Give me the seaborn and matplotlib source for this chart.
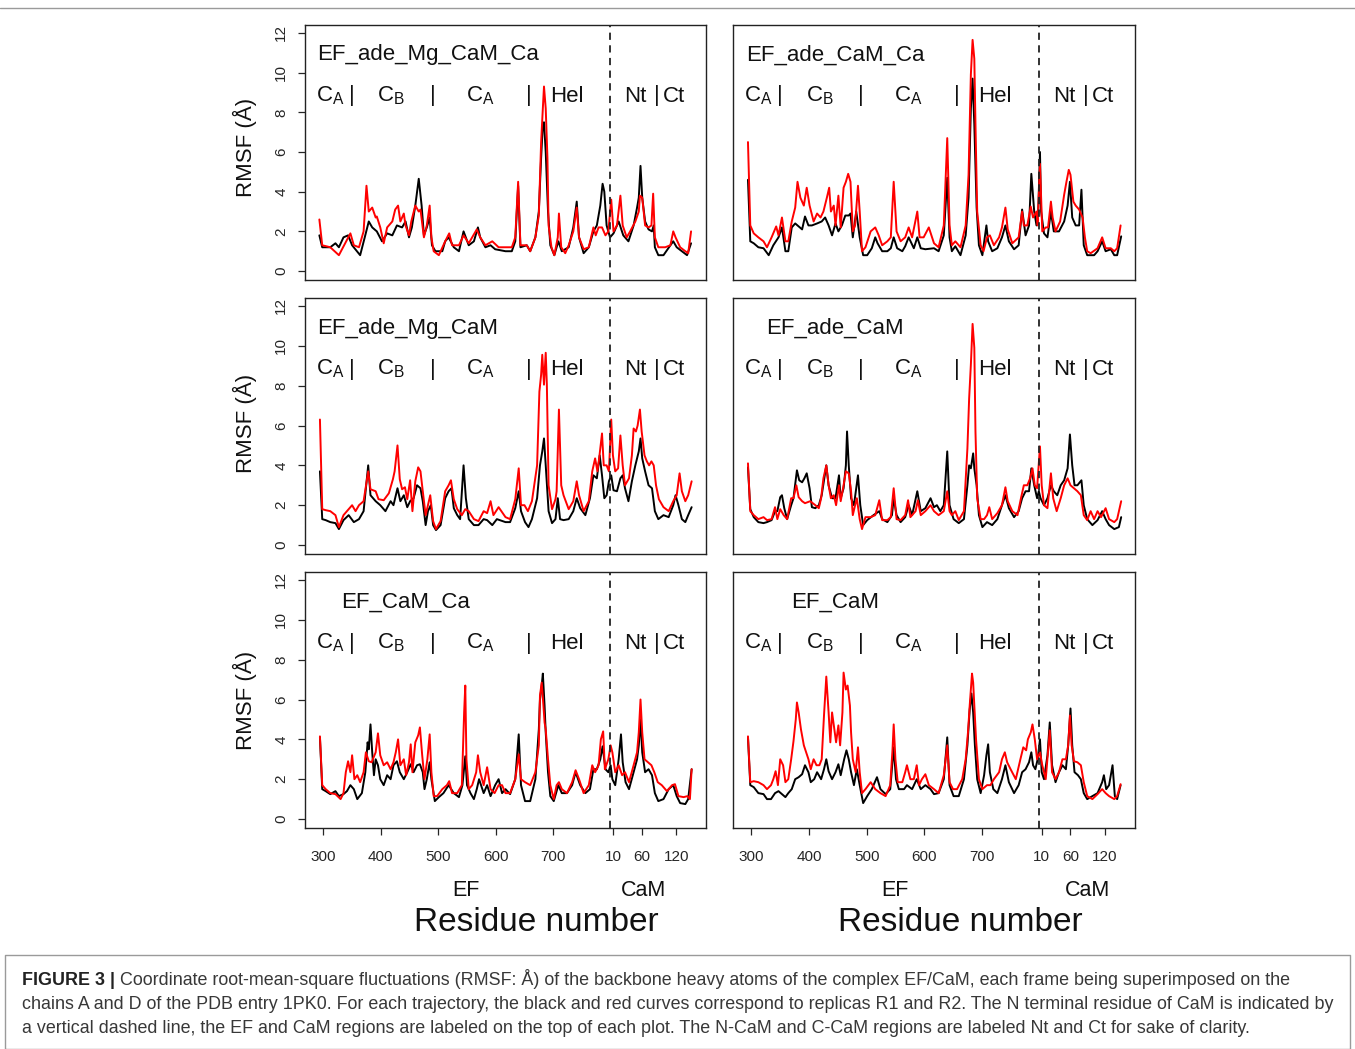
import pandas as pd
import seaborn as sns
import matplotlib.pyplot as plt
import matplotlib.transforms as mtransforms
from matplotlib.lines import Line2D

# CaM residue r is drawn at r + CAM_OFFSET on the shared residue axis
CAM_OFFSET = 794
CAM_START = 5

titles = ["EF_ade_Mg_CaM_Ca", "EF_ade_CaM_Ca", "EF_ade_Mg_CaM",
          "EF_ade_CaM", "EF_CaM_Ca", "EF_CaM"]

ef_ticks = [300, 400, 500, 600, 700]
cam_ticks = [10, 60, 120]
y_ticks = [0, 2, 4, 6, 8, 10, 12]

region_labels = ["$\\mathregular{C_A}$", "|", "$\\mathregular{C_B}$", "|",
                 "$\\mathregular{C_A}$", "|", "Hel", "Nt", "|", "Ct"]
region_pos = [312, 349, 418, 490, 573, 657, 723, 843, 880, 910]

# (residue position, RMSF in angstrom), replica R1 = black, R2 = red
mg_ca_r1 = [(293, 1.8), (298, 1.2), (304, 1.2), (312, 1.2), (321, 1.4), (327, 1.2), (335, 1.7), (343, 1.8),
            (350, 1.3), (364, 0.8), (372, 1.7), (379, 2.5), (385, 2.2), (393, 2.0), (402, 1.5), (411, 1.9),
            (420, 1.8), (428, 2.3), (437, 2.2), (443, 2.5), (449, 1.7), (454, 2.2), (460, 3.3), (466, 4.65),
            (471, 3.3), (475, 1.8), (480, 2.2), (485, 2.7), (489, 1.3), (495, 1.0), (507, 1.0), (512, 1.5),
            (518, 1.7), (527, 1.2), (536, 1.0), (544, 2.0), (553, 1.3), (562, 1.5), (569, 2.2), (573, 1.7),
            (582, 1.2), (591, 1.3), (599, 1.1), (617, 1.0), (628, 1.0), (634, 1.5), (639, 4.3), (643, 1.2),
            (654, 1.3), (660, 1.0), (669, 1.7), (675, 3.0), (679, 5.7), (682, 7.4), (684, 7.5), (687, 6.0),
            (691, 3.0), (695, 1.3), (702, 0.8), (709, 1.5), (715, 1.0), (727, 1.2), (735, 2.2), (741, 3.5),
            (745, 1.7), (753, 0.9), (762, 1.2), (770, 2.0), (776, 2.3), (782, 3.3), (786, 4.4), (789, 4.0),
            (793, 2.3), (799, 1.7), (805, 1.9), (814, 2.5), (822, 1.8), (831, 1.5), (840, 2.3), (846, 3.2),
            (849, 3.7), (852, 5.3), (855, 3.7), (860, 2.5), (866, 2.1), (872, 2.0), (875, 2.3), (877, 1.2),
            (883, 0.8), (892, 0.8), (904, 1.3), (909, 1.5), (915, 1.2), (924, 1.0), (933, 0.8), (940, 1.4)]
mg_ca_r2 = [(293, 2.6), (298, 1.3), (312, 1.2), (327, 0.8), (347, 1.9), (353, 1.3), (362, 1.2), (370, 2.0),
            (375, 4.3), (379, 3.0), (385, 3.2), (391, 2.7), (393, 2.75), (399, 2.2), (405, 1.4), (411, 2.2),
            (420, 2.5), (425, 3.1), (430, 3.3), (434, 2.5), (440, 2.9), (443, 2.3), (449, 1.8), (453, 2.5),
            (460, 3.3), (466, 3.0), (469, 3.1), (475, 1.7), (480, 2.3), (485, 3.3), (488, 1.7), (492, 1.0),
            (501, 0.8), (512, 1.5), (519, 1.9), (524, 1.3), (536, 1.3), (544, 1.8), (553, 1.4), (559, 1.7),
            (567, 2.1), (573, 1.7), (582, 1.3), (594, 1.5), (605, 1.2), (617, 1.2), (628, 1.2), (634, 1.7),
            (639, 4.5), (643, 1.3), (654, 1.3), (660, 1.0), (669, 1.7), (675, 2.8), (679, 6.5), (682, 8.2),
            (684, 9.3), (687, 8.2), (690, 5.7), (692, 2.3), (697, 1.2), (702, 0.8), (708, 1.7), (710, 2.9),
            (714, 1.2), (721, 0.9), (727, 1.3), (735, 2.0), (741, 3.2), (745, 1.7), (753, 1.1), (762, 1.2),
            (770, 2.2), (774, 1.8), (779, 2.2), (785, 2.2), (791, 1.8), (796, 2.0), (801, 3.6), (805, 2.0),
            (811, 2.3), (817, 3.8), (821, 2.3), (828, 1.7), (834, 2.0), (843, 2.5), (849, 3.0), (851, 3.8),
            (855, 3.7), (860, 2.3), (866, 2.2), (871, 2.3), (874, 3.9), (877, 1.7), (883, 1.2), (895, 1.2),
            (904, 1.3), (909, 2.0), (913, 1.7), (921, 1.2), (930, 1.0), (935, 0.9), (940, 2.0)]

ade_ca_r1 = [(294, 4.6), (298, 1.5), (304, 1.4), (312, 1.2), (321, 1.15), (330, 0.8), (338, 1.3), (347, 1.7),
             (353, 2.2), (359, 1.0), (364, 1.0), (370, 2.2), (376, 2.4), (382, 2.25), (388, 2.1), (393, 2.75),
             (399, 2.3), (405, 2.3), (414, 2.4), (422, 2.5), (428, 2.7), (434, 2.3), (440, 1.8), (446, 2.4),
             (451, 2.0), (457, 2.3), (463, 2.8), (469, 2.8), (472, 2.9), (476, 1.7), (482, 3.0), (488, 1.7),
             (494, 0.8), (501, 0.8), (509, 1.15), (515, 1.7), (519, 1.4), (527, 1.0), (536, 1.0), (542, 1.15),
             (547, 1.7), (553, 1.15), (562, 1.0), (567, 1.25), (573, 1.7), (582, 1.15), (588, 1.7), (594, 1.15),
             (602, 1.1), (617, 1.15), (625, 1.0), (634, 1.8), (640, 4.7), (644, 1.7), (648, 1.0), (654, 1.25),
             (663, 0.8), (672, 1.8), (677, 3.7), (681, 8.2), (684, 9.7), (687, 7.4), (691, 3.2), (695, 1.3),
             (701, 0.8), (708, 2.3), (711, 1.5), (718, 1.0), (727, 1.15), (735, 1.7), (741, 2.3), (747, 1.5),
             (756, 1.1), (764, 1.3), (770, 3.1), (776, 1.8), (782, 2.3), (786, 4.9), (791, 3.0), (795, 2.3),
             (798, 3.0), (801, 6.0), (803, 3.0), (808, 1.9), (814, 1.7), (820, 3.0), (825, 2.0), (834, 2.0),
             (843, 2.5), (849, 3.3), (853, 4.5), (857, 2.7), (863, 2.3), (869, 2.3), (873, 4.1), (877, 1.3),
             (883, 0.8), (895, 0.8), (901, 1.0), (909, 1.5), (915, 1.0), (924, 1.1), (930, 0.8), (935, 0.8),
             (942, 1.75)]
ade_ca_r2 = [(294, 6.5), (298, 2.3), (304, 1.9), (312, 1.7), (321, 1.5), (327, 1.2), (335, 1.7), (343, 2.25),
             (347, 1.8), (353, 2.7), (359, 1.5), (364, 1.5), (370, 2.5), (376, 3.2), (380, 4.5), (385, 3.7),
             (391, 3.3), (396, 4.2), (401, 3.3), (408, 2.5), (414, 2.9), (420, 2.7), (425, 3.0), (431, 3.7),
             (435, 4.2), (438, 3.0), (443, 3.3), (446, 2.3), (451, 3.8), (455, 2.2), (460, 4.2), (464, 4.5),
             (468, 4.9), (472, 4.5), (476, 2.0), (480, 2.3), (485, 4.3), (488, 3.0), (492, 1.0), (498, 1.2),
             (507, 2.0), (515, 2.2), (521, 1.8), (527, 1.3), (536, 1.5), (542, 1.7), (547, 4.5), (552, 2.0),
             (559, 1.5), (567, 1.7), (573, 2.2), (579, 1.7), (588, 3.0), (592, 1.7), (599, 1.7), (608, 2.2),
             (617, 1.4), (625, 1.2), (634, 2.3), (640, 6.7), (644, 2.3), (648, 1.3), (654, 1.5), (663, 1.2),
             (672, 2.3), (677, 4.85), (681, 9.9), (684, 11.65), (687, 10.7), (689, 7.4), (692, 3.0), (698, 1.3),
             (703, 1.0), (709, 1.7), (714, 1.8), (721, 1.3), (730, 1.7), (735, 2.2), (741, 3.2), (745, 2.1),
             (753, 1.4), (764, 1.7), (770, 3.0), (773, 2.3), (779, 2.3), (785, 3.25), (789, 2.7), (795, 3.0),
             (797, 2.3), (801, 5.4), (805, 2.0), (811, 2.2), (815, 2.2), (820, 3.5), (823, 2.7), (828, 2.0),
             (836, 2.5), (843, 3.85), (847, 4.5), (851, 5.1), (854, 4.85), (859, 3.5), (863, 3.3), (869, 3.1),
             (875, 2.7), (879, 1.7), (883, 1.0), (889, 0.9), (901, 1.15), (909, 1.7), (915, 1.15), (924, 1.15),
             (930, 1.0), (935, 1.15), (941, 2.3)]

mg_r1 = [(294, 3.7), (298, 1.3), (304, 1.25), (312, 1.15), (321, 1.1), (327, 0.8), (335, 1.25), (344, 1.5),
         (353, 1.15), (362, 1.3), (370, 1.7), (378, 4.0), (382, 2.5), (391, 2.2), (399, 2.0), (408, 1.7),
         (417, 2.2), (422, 2.0), (429, 2.85), (434, 2.2), (440, 2.5), (446, 1.9), (451, 2.2), (457, 2.35),
         (463, 3.0), (469, 2.85), (473, 2.2), (478, 1.0), (482, 1.7), (487, 2.0), (491, 1.0), (496, 0.75),
         (504, 1.0), (512, 2.35), (518, 2.7), (523, 2.85), (527, 1.85), (533, 1.5), (538, 1.3), (544, 4.0),
         (548, 2.35), (553, 1.3), (562, 1.0), (570, 1.0), (579, 1.3), (585, 1.25), (594, 1.0), (602, 1.3),
         (617, 1.15), (625, 1.15), (634, 1.85), (640, 2.7), (644, 1.7), (651, 1.15), (657, 0.9), (663, 1.3),
         (672, 2.35), (677, 4.0), (681, 4.7), (684, 5.35), (687, 4.0), (692, 1.7), (698, 1.1), (704, 1.3),
         (708, 2.35), (712, 1.3), (718, 1.25), (727, 1.3), (735, 1.7), (741, 2.35), (747, 1.85), (756, 1.5),
         (764, 2.35), (770, 3.5), (776, 3.35), (781, 4.5), (785, 3.5), (789, 2.35), (793, 2.5), (797, 3.2),
         (801, 3.5), (805, 2.75), (811, 2.7), (817, 3.35), (821, 3.5), (825, 2.85), (831, 2.2), (837, 3.2),
         (843, 4.0), (849, 4.7), (852, 5.35), (855, 4.35), (860, 3.7), (866, 3.0), (872, 2.85), (877, 1.7),
         (883, 1.3), (892, 1.5), (901, 1.4), (909, 2.0), (913, 2.5), (918, 2.0), (924, 1.3), (930, 1.15),
         (935, 1.5), (941, 1.9)]
mg_r2 = [(294, 6.3), (298, 1.8), (304, 1.75), (312, 1.7), (321, 1.5), (327, 0.9), (335, 1.5), (344, 1.8),
         (350, 2.0), (356, 1.7), (362, 2.0), (370, 2.2), (378, 3.7), (382, 2.8), (391, 2.7), (396, 2.3),
         (405, 2.25), (414, 2.6), (421, 3.3), (424, 3.7), (429, 5.0), (433, 3.3), (437, 2.8), (442, 2.9),
         (446, 2.3), (451, 3.25), (455, 1.7), (460, 3.2), (465, 3.9), (469, 3.7), (473, 2.7), (478, 1.5),
         (482, 2.0), (486, 2.5), (491, 1.2), (496, 0.8), (504, 1.2), (512, 2.7), (518, 3.0), (522, 3.25),
         (527, 2.3), (533, 1.8), (541, 1.5), (547, 1.8), (553, 1.7), (562, 1.3), (570, 1.2), (579, 1.7),
         (585, 1.6), (591, 2.2), (596, 1.5), (605, 1.9), (617, 1.4), (625, 1.3), (634, 2.3), (640, 3.85),
         (644, 2.0), (650, 2.0), (656, 1.7), (663, 2.2), (672, 4.0), (676, 7.7), (679, 8.55), (681, 9.55),
         (684, 8.05), (687, 9.65), (689, 8.05), (692, 3.0), (698, 1.8), (704, 2.3), (706, 2.7), (710, 6.8),
         (714, 3.0), (718, 2.5), (727, 1.8), (735, 2.2), (741, 3.2), (745, 2.5), (753, 1.7), (762, 2.2),
         (768, 3.7), (773, 4.35), (777, 3.7), (780, 4.35), (785, 5.6), (788, 4.0), (793, 4.0), (797, 3.7),
         (801, 6.3), (804, 4.5), (808, 3.7), (813, 3.85), (817, 5.5), (821, 4.0), (825, 3.0), (832, 3.35),
         (837, 4.5), (840, 5.85), (844, 5.7), (847, 6.0), (851, 6.8), (854, 5.7), (859, 4.5), (863, 4.2),
         (867, 4.0), (871, 4.2), (875, 4.0), (879, 3.0), (884, 2.3), (892, 1.9), (901, 1.7), (909, 2.2),
         (915, 2.5), (920, 3.6), (924, 2.7), (930, 2.2), (935, 2.5), (941, 3.2)]

ade_r1 = [(294, 3.9), (298, 1.8), (304, 1.4), (312, 1.15), (321, 1.1), (327, 1.15), (335, 1.25), (341, 1.7),
          (345, 1.7), (350, 2.4), (353, 2.5), (357, 1.85), (362, 1.3), (369, 2.0), (373, 2.35), (379, 3.75),
          (383, 3.25), (388, 3.15), (392, 3.35), (396, 3.6), (401, 2.85), (405, 1.9), (411, 1.85), (417, 2.0),
          (422, 2.5), (430, 4.0), (434, 3.0), (440, 2.35), (446, 2.35), (452, 3.5), (455, 2.35), (460, 2.85),
          (464, 4.0), (466, 5.7), (469, 4.0), (473, 2.35), (478, 2.0), (485, 3.5), (489, 2.0), (494, 1.0),
          (501, 1.25), (512, 1.5), (522, 1.7), (527, 1.3), (536, 1.15), (544, 1.5), (547, 2.35), (552, 1.5),
          (559, 1.15), (567, 1.4), (573, 2.0), (579, 1.5), (588, 2.7), (594, 1.7), (602, 1.85), (611, 2.35),
          (617, 1.9), (622, 2.0), (628, 1.7), (634, 2.0), (640, 4.7), (644, 2.0), (651, 1.3), (660, 1.1),
          (669, 1.3), (675, 3.0), (678, 4.0), (681, 3.85), (685, 4.6), (687, 3.85), (691, 3.0), (695, 1.5),
          (701, 0.9), (709, 1.15), (718, 1.0), (727, 1.3), (735, 2.0), (741, 2.5), (747, 1.85), (756, 1.4),
          (764, 1.7), (770, 2.35), (776, 2.7), (782, 2.7), (786, 3.85), (791, 3.0), (796, 2.35), (799, 2.7),
          (802, 2.35), (808, 2.0), (814, 2.35), (820, 3.0), (825, 2.7), (831, 2.5), (837, 3.0), (843, 3.25),
          (849, 3.85), (853, 5.55), (857, 4.0), (861, 3.0), (866, 3.0), (873, 3.25), (877, 2.0), (883, 1.3),
          (892, 1.0), (901, 1.25), (909, 1.7), (915, 1.3), (921, 1.0), (930, 0.8), (938, 0.9), (942, 1.4)]
ade_r2 = [(294, 4.1), (298, 1.7), (304, 1.5), (312, 1.3), (321, 1.4), (327, 1.25), (335, 1.3), (341, 1.9),
          (345, 1.3), (350, 1.8), (356, 1.5), (362, 1.3), (369, 2.35), (373, 2.35), (378, 3.0), (382, 2.4),
          (388, 2.2), (393, 2.1), (402, 2.2), (411, 2.0), (417, 1.85), (421, 2.35), (425, 3.35), (430, 4.0),
          (434, 3.0), (438, 2.35), (443, 2.5), (447, 2.0), (452, 3.0), (455, 2.2), (460, 3.0), (464, 3.7),
          (469, 3.6), (473, 2.7), (476, 1.5), (480, 2.0), (483, 2.35), (488, 1.3), (492, 0.8), (498, 1.4),
          (507, 1.4), (515, 1.5), (522, 2.25), (527, 1.25), (536, 1.25), (542, 1.4), (547, 2.85), (552, 1.3),
          (559, 1.25), (567, 1.5), (572, 2.25), (576, 1.4), (585, 1.7), (589, 2.25), (594, 1.5), (602, 1.7),
          (611, 2.0), (617, 1.7), (625, 1.5), (634, 1.7), (640, 2.7), (644, 1.7), (648, 1.5), (654, 1.7),
          (660, 1.25), (669, 1.7), (675, 4.85), (678, 7.35), (681, 9.05), (684, 11.1), (687, 9.9), (689, 5.7),
          (692, 2.35), (698, 1.3), (704, 1.3), (709, 1.5), (713, 1.9), (718, 1.3), (727, 1.6), (735, 2.0),
          (741, 2.9), (745, 2.2), (753, 1.7), (762, 1.5), (768, 2.35), (773, 3.0), (779, 3.0), (784, 3.35),
          (788, 3.85), (792, 3.0), (796, 2.85), (801, 4.95), (804, 3.0), (808, 2.0), (814, 1.85), (820, 3.6),
          (824, 2.35), (830, 1.7), (837, 2.35), (843, 3.0), (849, 3.35), (854, 3.0), (860, 2.85), (866, 2.7),
          (872, 2.5), (877, 1.5), (883, 1.25), (889, 1.7), (895, 1.3), (901, 1.7), (907, 1.4), (915, 1.85),
          (921, 1.3), (930, 1.15), (935, 1.3), (942, 2.2)]

ca_r1 = [(294, 4.1), (298, 1.5), (304, 1.4), (312, 1.25), (321, 1.4), (327, 1.15), (335, 1.25), (341, 1.4),
         (347, 1.7), (353, 1.5), (359, 1.0), (367, 1.3), (373, 2.35), (377, 3.85), (379, 3.5), (382, 4.75),
         (385, 3.35), (388, 2.2), (391, 3.0), (395, 2.7), (399, 2.0), (405, 1.7), (411, 2.2), (417, 2.0),
         (422, 2.7), (428, 2.9), (433, 2.35), (440, 2.0), (446, 2.35), (452, 2.75), (457, 2.35), (463, 2.7),
         (468, 2.75), (473, 2.35), (476, 1.5), (480, 2.0), (485, 2.85), (488, 2.0), (494, 0.9), (501, 1.1),
         (509, 1.3), (518, 1.7), (527, 1.3), (536, 1.1), (542, 1.7), (547, 3.15), (550, 1.7), (556, 1.3),
         (562, 1.0), (567, 1.5), (571, 2.0), (579, 1.3), (585, 1.7), (591, 1.15), (599, 1.7), (605, 2.0),
         (611, 1.3), (617, 1.5), (625, 1.25), (634, 2.0), (640, 4.25), (644, 1.7), (651, 0.9), (660, 0.9),
         (669, 2.0), (675, 4.5), (677, 6.0), (680, 6.7), (682, 7.3), (685, 5.7), (687, 4.35), (691, 2.35),
         (695, 1.15), (701, 0.9), (709, 1.7), (715, 1.3), (724, 1.3), (733, 1.7), (739, 2.35), (747, 1.7),
         (756, 1.3), (764, 1.5), (770, 2.5), (776, 2.5), (782, 3.0), (786, 3.65), (791, 2.5), (796, 2.35),
         (800, 2.7), (803, 2.0), (808, 1.7), (814, 3.0), (818, 4.25), (821, 2.85), (826, 1.85), (832, 1.5),
         (840, 2.35), (846, 3.0), (849, 3.7), (852, 5.0), (855, 3.35), (860, 2.35), (866, 2.5), (872, 2.2),
         (877, 1.3), (883, 0.9), (892, 1.0), (901, 1.5), (909, 1.7), (915, 1.15), (921, 0.8), (930, 0.75),
         (935, 1.0), (941, 2.5)]
ca_r2 = [(294, 4.15), (298, 1.7), (304, 1.5), (312, 1.3), (321, 1.25), (330, 1.0), (335, 1.3), (339, 2.35),
         (343, 2.9), (347, 2.35), (350, 3.2), (354, 2.0), (359, 2.2), (364, 1.85), (370, 2.35), (374, 3.35),
         (379, 2.9), (384, 2.85), (391, 3.35), (395, 4.3), (399, 3.2), (405, 2.7), (411, 2.85), (417, 2.5),
         (422, 2.85), (426, 3.35), (430, 4.0), (434, 2.7), (440, 3.0), (444, 2.2), (449, 2.85), (452, 3.75),
         (455, 2.35), (460, 3.85), (465, 4.2), (468, 4.6), (472, 3.2), (476, 2.0), (481, 3.0), (485, 4.25),
         (488, 2.35), (492, 1.15), (498, 1.15), (507, 1.5), (515, 1.7), (519, 1.9), (524, 1.3), (533, 1.3),
         (541, 1.7), (545, 5.35), (547, 6.7), (549, 3.0), (553, 1.5), (559, 1.7), (566, 2.35), (569, 3.2),
         (573, 2.35), (579, 1.7), (585, 2.6), (591, 1.5), (598, 1.3), (605, 1.7), (611, 1.7), (617, 1.3),
         (625, 1.3), (634, 2.0), (640, 3.25), (644, 2.0), (651, 1.85), (660, 1.7), (669, 2.35), (675, 3.7),
         (677, 6.2), (680, 6.85), (683, 5.7), (685, 4.85), (687, 4.5), (691, 3.0), (695, 1.7), (701, 1.0),
         (706, 1.7), (710, 1.85), (715, 1.5), (724, 1.3), (733, 1.85), (739, 2.45), (745, 2.0), (753, 1.3),
         (762, 1.7), (768, 2.7), (773, 2.35), (779, 2.7), (783, 4.0), (787, 4.4), (790, 2.5), (796, 3.0),
         (800, 3.7), (803, 3.35), (808, 2.35), (814, 2.7), (820, 2.2), (825, 2.35), (832, 1.85), (840, 2.7),
         (846, 3.35), (849, 4.35), (852, 6.0), (855, 4.35), (859, 3.0), (865, 2.85), (871, 2.7), (876, 2.35),
         (882, 1.85), (889, 1.7), (898, 1.4), (907, 1.7), (912, 1.75), (918, 1.15), (927, 1.1), (934, 1.15),
         (938, 1.0), (941, 2.5)]

apo_r1 = [(294, 4.1), (298, 1.7), (304, 1.6), (312, 1.3), (321, 1.25), (327, 1.0), (334, 1.0), (341, 1.3),
          (347, 1.4), (353, 1.25), (359, 1.1), (364, 1.3), (370, 1.5), (376, 2.0), (382, 2.1), (388, 2.25),
          (393, 2.7), (399, 2.35), (403, 1.85), (409, 2.0), (414, 2.35), (421, 2.0), (426, 2.5), (430, 3.0),
          (434, 2.4), (440, 2.0), (446, 2.35), (451, 2.75), (455, 2.2), (461, 3.0), (465, 3.45), (469, 3.0),
          (473, 2.35), (478, 1.7), (483, 2.5), (488, 1.7), (494, 0.8), (501, 1.15), (509, 1.5), (518, 2.1),
          (524, 1.5), (533, 1.25), (541, 1.5), (547, 3.6), (551, 2.0), (556, 1.5), (565, 1.5), (570, 1.7),
          (579, 1.5), (587, 2.0), (594, 1.5), (602, 1.7), (611, 1.5), (617, 1.25), (625, 1.3), (634, 2.0),
          (640, 4.1), (644, 1.7), (651, 1.15), (660, 1.15), (669, 2.0), (675, 3.7), (679, 5.5), (682, 6.3),
          (685, 5.35), (688, 3.7), (692, 2.0), (698, 1.3), (704, 2.2), (708, 3.2), (711, 3.75), (714, 2.35),
          (720, 1.5), (727, 1.3), (735, 2.0), (741, 2.7), (747, 1.85), (756, 1.3), (764, 1.7), (770, 2.35),
          (776, 2.5), (782, 2.85), (786, 3.35), (789, 2.7), (793, 2.5), (797, 3.0), (801, 4.0), (804, 2.35),
          (808, 2.0), (814, 3.2), (818, 4.85), (822, 2.7), (828, 1.85), (834, 2.35), (840, 2.7), (846, 2.5),
          (850, 3.7), (854, 5.55), (857, 3.7), (861, 2.35), (867, 2.2), (872, 2.0), (877, 1.3), (883, 1.0),
          (892, 1.15), (901, 1.3), (909, 1.85), (912, 2.2), (916, 1.5), (921, 1.7), (927, 2.7), (931, 1.15),
          (935, 1.0), (941, 1.7)]
apo_r2 = [(294, 4.15), (298, 1.85), (304, 1.9), (312, 1.85), (321, 1.7), (327, 1.5), (334, 1.7), (338, 2.0),
          (342, 2.4), (346, 1.7), (350, 3.0), (355, 2.7), (359, 1.85), (364, 2.0), (369, 3.0), (373, 3.9),
          (377, 5.0), (379, 5.85), (382, 5.35), (386, 4.5), (391, 3.7), (395, 3.35), (399, 3.0), (403, 2.5),
          (408, 3.0), (413, 2.7), (418, 2.7), (422, 3.0), (426, 5.2), (430, 7.15), (434, 5.35), (437, 3.85),
          (440, 5.35), (444, 4.5), (447, 3.85), (451, 4.7), (454, 3.7), (458, 5.35), (460, 7.35), (464, 6.5),
          (467, 6.7), (471, 5.7), (473, 4.35), (476, 3.0), (481, 2.35), (485, 3.6), (488, 2.35), (492, 1.3),
          (498, 1.5), (507, 1.85), (515, 1.5), (524, 1.3), (533, 1.15), (541, 1.7), (545, 3.5), (547, 4.75),
          (550, 3.0), (554, 1.85), (562, 1.85), (567, 2.35), (570, 2.7), (576, 2.0), (582, 2.0), (587, 2.7),
          (591, 1.7), (596, 2.0), (602, 2.25), (608, 1.7), (617, 1.5), (625, 1.3), (634, 2.2), (640, 3.7),
          (644, 1.85), (650, 1.5), (657, 1.5), (666, 2.0), (672, 3.0), (676, 4.35), (679, 5.7), (683, 7.3),
          (685, 6.85), (687, 5.7), (690, 4.0), (695, 2.0), (701, 1.5), (709, 1.7), (715, 1.7), (721, 2.0),
          (730, 2.35), (735, 3.0), (740, 3.35), (744, 2.85), (750, 2.5), (759, 2.0), (767, 3.0), (772, 3.6),
          (777, 3.45), (780, 4.0), (785, 4.35), (788, 4.75), (792, 4.0), (796, 3.0), (801, 3.35), (805, 2.7),
          (811, 2.0), (818, 4.45), (822, 2.35), (828, 2.0), (834, 2.35), (840, 3.0), (846, 3.0), (850, 3.7),
          (853, 5.2), (856, 3.7), (860, 2.9), (866, 2.85), (872, 2.7), (877, 1.85), (883, 1.15), (892, 1.0),
          (901, 1.25), (909, 1.5), (915, 1.3), (921, 1.15), (930, 1.0), (935, 1.15), (941, 1.75)]

r1_curves = [mg_ca_r1, ade_ca_r1, mg_r1, ade_r1, ca_r1, apo_r1]
r2_curves = [mg_ca_r2, ade_ca_r2, mg_r2, ade_r2, ca_r2, apo_r2]

rows = []
for title, r1, r2 in zip(titles, r1_curves, r2_curves):
    for rep, pts in (("R1", r1), ("R2", r2)):
        for pos, val in pts:
            rows.append((title, rep, pos, val))
df = pd.DataFrame(rows, columns=["panel", "replica", "pos", "rmsf"])

sns.set_theme(style="ticks")
plt.rcParams["font.family"] = ["Liberation Sans", "DejaVu Sans"]

W, H = 1355, 1049
fig = plt.figure(figsize=(W / 100, H / 100), dpi=100)

# panel layout in pixels
col_x = [305, 733]
col_w = [401, 402]
row_y = [25, 298, 572]
row_h = [255, 256, 256]
title_x = [0.029, 0.033, 0.031, 0.083, 0.091, 0.145]

for i, title in enumerate(titles):
    r, c = divmod(i, 2)
    rect = [col_x[c] / W, 1 - (row_y[r] + row_h[r]) / H, col_w[c] / W, row_h[r] / H]
    ax = fig.add_axes(rect)
    sub = df[df["panel"] == title]
    sns.lineplot(data=sub, x="pos", y="rmsf", hue="replica", hue_order=["R1", "R2"],
                 palette=["black", "red"], estimator=None, sort=False, legend=False,
                 linewidth=1.4, ax=ax)
    ax.set_xlim(268, 966)
    ax.set_ylim(-0.45, 12.4)
    ax.set_xlabel("")
    ax.set_ylabel("")
    for sp in ax.spines.values():
        sp.set_visible(True)
        sp.set_color("#222222")
        sp.set_linewidth(1.0)
    ax.axvline(CAM_OFFSET + CAM_START, color="#222222", linestyle=(0, (4, 3)), linewidth=1.3)

    if c == 0:
        ax.set_yticks(y_ticks)
        ax.set_yticklabels([str(v) for v in y_ticks])
        ax.tick_params(axis="y", length=5, width=0.9, pad=7, labelsize=11, labelrotation=90)
        for lbl in ax.get_yticklabels():
            lbl.set_va("center")
    else:
        ax.set_yticks([])
    if r == 2:
        ax.set_xticks(ef_ticks + [t + CAM_OFFSET for t in cam_ticks])
        ax.set_xticklabels([str(t) for t in ef_ticks + cam_ticks])
        ax.tick_params(axis="x", length=5, width=0.9, pad=10.5, labelsize=11)
    else:
        ax.set_xticks([])

    ax.text(title_x[i], 0.861, title, transform=ax.transAxes, fontsize=16,
            ha="left", va="baseline", color="#111111")
    trans = mtransforms.blended_transform_factory(ax.transData, ax.transAxes)
    for lab, pos in zip(region_labels, region_pos):
        ax.text(pos, 0.70, lab, transform=trans, fontsize=16, ha="center",
                va="baseline", color="#111111")

# y labels, one per row
for yc in [147, 423, 700]:
    fig.text(245 / W, 1 - yc / H, "RMSF (Å)", rotation=90, ha="center", va="center",
             fontsize=16, color="#111111")

# bottom region names and axis titles
ef_x = [466, 895]
cam_x = [643, 1087]
res_x = [536, 960]
for c in range(2):
    fig.text(ef_x[c] / W, 1 - 896 / H, "EF", ha="center", va="baseline", fontsize=15.5, color="#111111")
    fig.text(cam_x[c] / W, 1 - 896 / H, "CaM", ha="center", va="baseline", fontsize=15.5, color="#111111")
    fig.text(res_x[c] / W, 1 - 931 / H, "Residue number", ha="center", va="baseline",
             fontsize=24, color="#111111")

# frame lines
fig.add_artist(Line2D([0, 1], [1 - 8 / H, 1 - 8 / H], transform=fig.transFigure,
                      color="#9a9a9a", linewidth=1.0))
fig.add_artist(Line2D([5 / W, 1350 / W, 1350 / W, 5 / W, 5 / W],
                      [0, 0, 1 - 955 / H, 1 - 955 / H, 0], transform=fig.transFigure,
                      color="#9a9a9a", linewidth=1.0))

# caption
cap_fs = 12.9
cap_col = "#383838"
caption_lines = [
    " Coordinate root-mean-square fluctuations (RMSF: Å) of the backbone heavy atoms of the complex EF/CaM, each frame being superimposed on the",
    "chains A and D of the PDB entry 1PK0. For each trajectory, the black and red curves correspond to replicas R1 and R2. The N terminal residue of CaM is indicated by",
    "a vertical dashed line, the EF and CaM regions are labeled on the top of each plot. The N-CaM and C-CaM regions are labeled Nt and Ct for sake of clarity.",
]
cap_base = [985, 1009, 1033]
renderer = fig.canvas.get_renderer()
bold = fig.text(22 / W, 1 - cap_base[0] / H, "FIGURE 3 |", fontsize=cap_fs, fontweight="bold",
                ha="left", va="baseline", color="#222222")
bx = bold.get_window_extent(renderer).x1 / W
fig.text(bx, 1 - cap_base[0] / H, caption_lines[0], fontsize=cap_fs, ha="left",
         va="baseline", color=cap_col)
for line, yb in zip(caption_lines[1:], cap_base[1:]):
    fig.text(22 / W, 1 - yb / H, line, fontsize=cap_fs, ha="left", va="baseline", color=cap_col)

fig.savefig("out.png", dpi=100)
